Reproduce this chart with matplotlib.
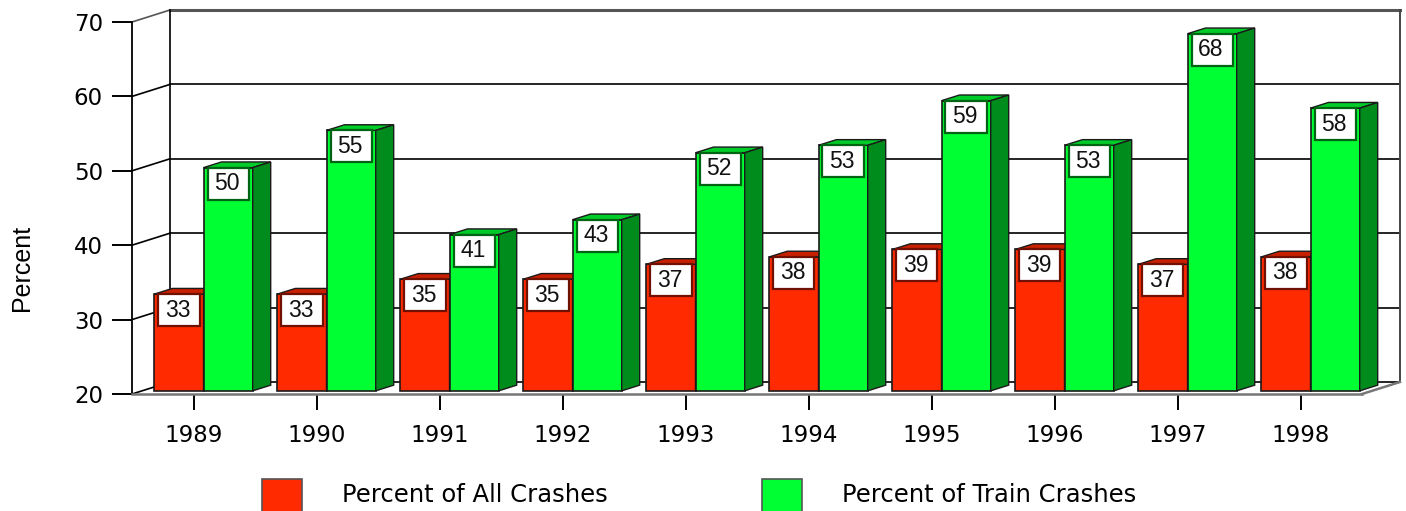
import matplotlib.pyplot as plt
from matplotlib.patches import Polygon, Rectangle

years = ["1989", "1990", "1991", "1992", "1993", "1994", "1995", "1996", "1997", "1998"]
all_crashes = [33, 33, 35, 35, 37, 38, 39, 39, 37, 38]
train_crashes = [50, 55, 41, 43, 52, 53, 59, 53, 68, 58]
y_ticks = [20, 30, 40, 50, 60, 70]
series_names = ["Percent of All Crashes", "Percent of Train Crashes"]

# face colours: front, top, side, label border
red = ("#FF2A00", "#C82000", "#A81800", "#701000")
green = ("#00FF33", "#00CC29", "#008C1C", "#006414")

W, H = 1406, 511
fig = plt.figure(figsize=(W / 100, H / 100), dpi=100)
ax = fig.add_axes([132 / W, (H - 394) / H, 1230 / W, 372 / H])
ax.set_xlim(-0.5, 9.5)
ax.set_ylim(20, 70)

# pixel -> data unit conversions for the fake 3D depth
px_x = 1230 / 10
px_y = 372 / 50
DX, DY = 38 / px_x, 12 / px_y
x0, x1 = -0.5, 9.5
ymin, ymax = y_ticks[0], y_ticks[-1]

# back wall and left wall
for v in y_ticks:
    col, lw = ("#555555", 2.2) if v == ymax else ("k", 1.2)
    ax.plot([x0 + DX, x1 + DX], [v + DY, v + DY], color=col, lw=lw, clip_on=False, zorder=1)
    ax.plot([x0, x0 + DX], [v, v + DY], color=col, lw=1.2, clip_on=False, zorder=1)
ax.plot([x0 + DX, x0 + DX], [ymin + DY, ymax + DY], color="k", lw=1.2, clip_on=False, zorder=1)
ax.plot([x1 + DX, x1 + DX], [ymin + DY, ymax + DY], color="#444444", lw=1.4, clip_on=False, zorder=1)
# floor right edge
ax.plot([x1, x1 + DX], [ymin, ymin + DY], color="#777777", lw=1.8, clip_on=False, zorder=1)

# bars sit in the middle of the depth
f0, f1 = 10 / 38, 28 / 38
ox, oy = f0 * DX, f0 * DY
sx, sy = (f1 - f0) * DX, (f1 - f0) * DY
bw = 0.4
inset = 4 / px_x
box_h = 32 / px_y


def draw_bars(lefts, values, colors, z):
    front, top, side, border = colors
    xs = [x + ox for x in lefts]
    ax.bar(xs, [v - ymin for v in values], bottom=ymin + oy, width=bw, align="edge",
           color=front, edgecolor="#1a1a1a", linewidth=1.2, clip_on=False, zorder=z)
    for xl, v in zip(xs, values):
        xr, yt = xl + bw, v + oy
        ax.add_patch(Polygon([(xl, yt), (xr, yt), (xr + sx, yt + sy), (xl + sx, yt + sy)],
                             closed=True, fc=top, ec="#1a1a1a", lw=1.0, clip_on=False, zorder=z))
        ax.add_patch(Polygon([(xr, ymin + oy), (xr + sx, ymin + oy + sy), (xr + sx, yt + sy), (xr, yt)],
                             closed=True, fc=side, ec="#1a1a1a", lw=1.0, clip_on=False, zorder=z))
        ax.add_patch(Rectangle((xl + inset, yt - box_h), bw - 2 * inset, box_h,
                               fc="white", ec=border, lw=1.6, clip_on=False, zorder=z + 0.5))
        ax.text(xl + bw / 2 - 1 / px_x, yt - box_h / 2, f"{v}", ha="center", va="center",
                fontsize=16.5, family="Liberation Sans", color="#111111", zorder=z + 0.6)


idx = range(len(years))
draw_bars([i - bw for i in idx], all_crashes, red, 3)
draw_bars([i for i in idx], train_crashes, green, 4)

# axes, ticks and labels
for s in ["top", "right"]:
    ax.spines[s].set_visible(False)
ax.spines["left"].set_linewidth(1.3)
ax.spines["bottom"].set_color("#777777")
ax.spines["bottom"].set_linewidth(1.8)
ax.set_xticks(list(idx), years)
ax.set_yticks(y_ticks)
ax.tick_params(axis="x", length=11.5, width=1.4, pad=10, labelsize=16.5)
ax.tick_params(axis="y", length=14.4, width=1.4, pad=6.5, labelsize=16.5)
fig.text(22 / W, 1 - 268 / H, "Percent", rotation=90, ha="center", va="center",
         fontsize=18, family="Liberation Sans")

# legend
for (xs, xt), name, c in zip([(262, 342), (762, 842)], series_names, [red, green]):
    fig.add_artist(Rectangle((xs / W, 1 - 519 / H), 40 / W, 40 / H, transform=fig.transFigure,
                             fc=c[0], ec="#555555", lw=1.2))
    fig.text(xt / W, 1 - 502 / H, name, ha="left", va="baseline", fontsize=17.5)

fig.savefig("out.png", dpi=100)
